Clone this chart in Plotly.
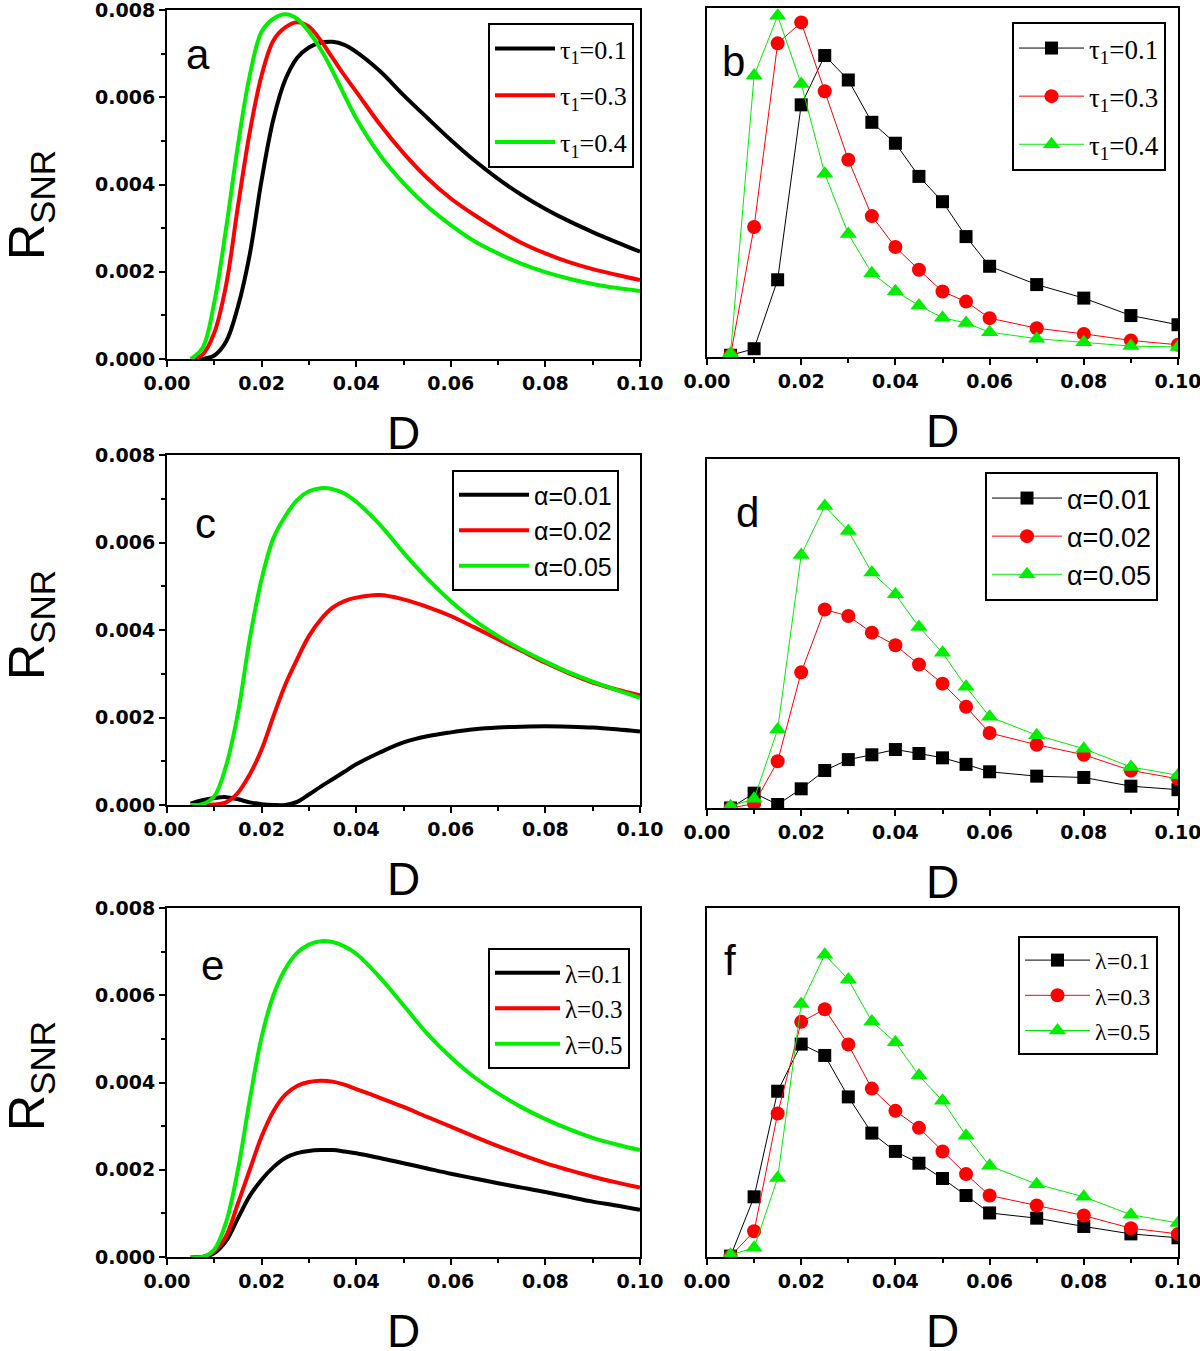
import plotly.graph_objects as go

# noise intensity grid for the theory curves (panels a, c, e)
D_curve = [0.005, 0.0075, 0.01, 0.0125, 0.015, 0.0175, 0.02, 0.0225, 0.025, 0.0275,
           0.03, 0.0325, 0.035, 0.0375, 0.04, 0.045, 0.05, 0.055, 0.06, 0.065,
           0.07, 0.075, 0.08, 0.085, 0.09, 0.095, 0.1]
# simulation points (panels b, d, f)
D_sim = [0.005, 0.01, 0.015, 0.02, 0.025, 0.03, 0.035, 0.04, 0.045, 0.05,
         0.055, 0.06, 0.07, 0.08, 0.09, 0.1]

# panel a: tau1
a_tau01 = [0, 0, 0.00008, 0.0004, 0.0012, 0.0024, 0.0041, 0.0055, 0.0064, 0.0069,
           0.00714, 0.00725, 0.00727, 0.0072, 0.00704, 0.0066, 0.00605, 0.00553, 0.00502, 0.00455,
           0.00413, 0.00376, 0.00344, 0.00316, 0.00291, 0.00268, 0.00246]
a_tau03 = [0, 0.0001, 0.0006, 0.0017, 0.0035, 0.0052, 0.0065, 0.0073, 0.0076, 0.00772,
           0.00762, 0.0073, 0.0069, 0.0065, 0.00613, 0.00538, 0.00472, 0.00415, 0.00368, 0.0033,
           0.00296, 0.00266, 0.00242, 0.00222, 0.00206, 0.00193, 0.00181]
a_tau04 = [0, 0.00025, 0.0013, 0.003, 0.0049, 0.0065, 0.0075, 0.0078, 0.0079, 0.0078,
           0.0075, 0.0071, 0.0066, 0.00605, 0.00552, 0.00468, 0.00403, 0.0035, 0.00307, 0.0027,
           0.00242, 0.00218, 0.00199, 0.00184, 0.00172, 0.00163, 0.00156]

# panel b: tau1 (simulation)
b_tau01 = [0.00004, 0.00019, 0.00177, 0.00578, 0.00691, 0.00635, 0.00538, 0.0049, 0.00414, 0.00356,
           0.00276, 0.00208, 0.00166, 0.00135, 0.00095, 0.00074]
b_tau03 = [0.00004, 0.00298, 0.00719, 0.00767, 0.00609, 0.00452, 0.00323, 0.00252, 0.002, 0.0015,
           0.00127, 0.00089, 0.00066, 0.00053, 0.00038, 0.00028]
b_tau04 = [0.00008, 0.00645, 0.00782, 0.00626, 0.0042, 0.00282, 0.00192, 0.00151, 0.00118, 0.0009,
           0.00078, 0.00057, 0.00042, 0.00034, 0.00025, 0.00023]

# panel c: alpha
c_a001 = [0.00003, 0.00011, 0.00016, 0.00018, 0.00013, 0.00006, 0.00002, 0.0, 0.0, 0.00007,
          0.00024, 0.00042, 0.00059, 0.00076, 0.00093, 0.0012, 0.00143, 0.00157, 0.00166, 0.00173,
          0.00177, 0.00179, 0.0018, 0.00179, 0.00177, 0.00173, 0.00168]
c_a002 = [0, 0, 0.00001, 0.00006, 0.00028, 0.0007, 0.00127, 0.00203, 0.00275, 0.00333,
          0.00386, 0.00424, 0.00451, 0.00466, 0.00474, 0.0048, 0.0047, 0.00453, 0.00432, 0.00406,
          0.00379, 0.00352, 0.00325, 0.00301, 0.0028, 0.00264, 0.00251]
c_a005 = [0, 0.00002, 0.0002, 0.0009, 0.0021, 0.0038, 0.00516, 0.0061, 0.0066, 0.00697,
          0.00717, 0.00724, 0.00722, 0.00712, 0.00693, 0.00641, 0.00577, 0.00518, 0.00466, 0.00422,
          0.00386, 0.00355, 0.00328, 0.00303, 0.00282, 0.00263, 0.00245]

# panel d: alpha (simulation)
d_a001 = [0.0, 0.00034, 0.00008, 0.00044, 0.00086, 0.00111, 0.00122, 0.00134, 0.00125, 0.00115,
          0.001, 0.00083, 0.00073, 0.0007, 0.0005, 0.00042]
d_a002 = [0.0, 0.0001, 0.00107, 0.00311, 0.00455, 0.0044, 0.00402, 0.00373, 0.00329, 0.00285,
          0.00232, 0.00172, 0.00145, 0.00122, 0.00086, 0.00067]
d_a005 = [0.00004, 0.00021, 0.0018, 0.0058, 0.00692, 0.00635, 0.0054, 0.0049, 0.00415, 0.00356,
          0.00278, 0.00209, 0.00167, 0.00136, 0.00094, 0.00075]

# panel e: lambda
e_l01 = [0, 0, 0.00009, 0.00037, 0.00089, 0.0014, 0.00177, 0.00206, 0.00227, 0.00238,
         0.00243, 0.00245, 0.00245, 0.00242, 0.00238, 0.00227, 0.00215, 0.00203, 0.00191, 0.0018,
         0.00169, 0.00159, 0.00149, 0.00138, 0.00127, 0.00118, 0.00108]
e_l03 = [0, 0, 0.00013, 0.00048, 0.00123, 0.002, 0.00276, 0.00334, 0.00372, 0.00392,
         0.00401, 0.00404, 0.00402, 0.00395, 0.00385, 0.00365, 0.00344, 0.00321, 0.00299, 0.00276,
         0.00254, 0.00234, 0.00215, 0.00199, 0.00184, 0.00171, 0.00159]
e_l05 = [0, 0, 0.00017, 0.0008, 0.002, 0.0036, 0.00504, 0.006, 0.0066, 0.00697,
         0.00716, 0.00724, 0.00722, 0.00712, 0.00695, 0.00641, 0.00577, 0.00512, 0.00458, 0.00412,
         0.00375, 0.00343, 0.00316, 0.00293, 0.00273, 0.00258, 0.00245]

# panel f: lambda (simulation)
f_l01 = [0.00002, 0.00138, 0.0038, 0.00488, 0.00462, 0.00367, 0.00284, 0.00242, 0.00215, 0.0018,
         0.00141, 0.00101, 0.00089, 0.0007, 0.00053, 0.00044]
f_l03 = [0.00002, 0.00059, 0.00329, 0.00539, 0.00568, 0.00487, 0.00386, 0.00335, 0.00296, 0.00242,
         0.0019, 0.00141, 0.00118, 0.00095, 0.00066, 0.00053]
f_l05 = [0.00005, 0.00021, 0.00181, 0.0058, 0.00693, 0.00636, 0.0054, 0.00492, 0.00416, 0.00358,
         0.00278, 0.00209, 0.00167, 0.00138, 0.00097, 0.00078]

tau_names = ["τ<sub>1</sub>=0.1", "τ<sub>1</sub>=0.3", "τ<sub>1</sub>=0.4"]
alpha_names = ["α=0.01", "α=0.02", "α=0.05"]
lambda_names = ["λ=0.1", "λ=0.3", "λ=0.5"]
panel_letters = ["a", "b", "c", "d", "e", "f"]

colors = ["#000000", "#ff0000", "#00ee00"]
symbols = ["square", "circle", "triangle-up"]
msizes = [13, 14, 15]

W, H = 1200, 1351
SERIF = "Liberation Serif, Times New Roman, serif"
SANS = "Liberation Sans, Arial, sans-serif"
TICKF = "DejaVu Sans, Arial, sans-serif"


def px_x(v):
    return v / W


def px_y(v):
    return 1 - v / H


# pixel boxes of the six plot areas: (left, right, top, bottom)
boxes = [(167, 640, 10, 359), (707, 1178, 8, 357),
         (167, 640, 455, 805), (707, 1178, 459, 808),
         (167, 640, 908, 1257), (707, 1178, 908, 1257)]

fig = go.Figure()

curve_sets = [(a_tau01, a_tau03, a_tau04), (c_a001, c_a002, c_a005), (e_l01, e_l03, e_l05)]
sim_sets = [(b_tau01, b_tau03, b_tau04), (d_a001, d_a002, d_a005), (f_l01, f_l03, f_l05)]
name_sets = [tau_names, alpha_names, lambda_names]

for row in range(3):
    left = 2 * row + 1
    right = 2 * row + 2
    for k in range(3):
        fig.add_trace(go.Scatter(
            x=D_curve, y=curve_sets[row][k], mode="lines", name=name_sets[row][k],
            line=dict(color=colors[k], width=4, shape="spline", smoothing=1),
            xaxis="x" if left == 1 else f"x{left}", yaxis="y" if left == 1 else f"y{left}",
            legend="legend" if left == 1 else f"legend{left}", legendgroup=f"g{left}{k}"))
        fig.add_trace(go.Scatter(
            x=D_sim, y=sim_sets[row][k], mode="lines+markers", name=name_sets[row][k],
            line=dict(color=colors[k], width=1),
            marker=dict(symbol=symbols[k], size=msizes[k], color=colors[k]),
            xaxis=f"x{right}", yaxis=f"y{right}",
            legend=f"legend{right}", legendgroup=f"g{right}{k}"))

tickfont = dict(family=TICKF, size=19, color="black", weight="bold")
layout = dict(template="none", width=W, height=H, margin=dict(l=0, r=0, t=0, b=0),
              plot_bgcolor="white", paper_bgcolor="white", showlegend=True)

for i, (l, r, t, b) in enumerate(boxes, start=1):
    sx = "" if i == 1 else str(i)
    layout[f"xaxis{sx}"] = dict(
        domain=[px_x(l), px_x(r)], range=[0, 0.1], anchor=f"y{sx}", automargin=False,
        dtick=0.02, tick0=0, tickformat=".2f", ticks="outside", ticklen=6, tickwidth=1.5,
        tickcolor="black", ticklabeloverflow="allow",
        minor=dict(dtick=0.01, ticks="outside", ticklen=4, tickwidth=1.5, tickcolor="black"),
        showline=True, linecolor="black", linewidth=2, mirror=True,
        showgrid=False, zeroline=False, tickfont=tickfont)
    left_col = (i % 2 == 1)
    layout[f"yaxis{sx}"] = dict(
        domain=[px_y(b), px_y(t)], range=[0, 0.008], anchor=f"x{sx}", automargin=False,
        dtick=0.002, tick0=0, tickformat=".3f", ticklabeloverflow="allow",
        ticks="outside" if left_col else "", ticklen=6, tickwidth=1.5, tickcolor="black",
        minor=dict(dtick=0.001, ticks="outside" if left_col else "", ticklen=4,
                   tickwidth=1.5, tickcolor="black"),
        showticklabels=left_col,
        showline=True, linecolor="black", linewidth=2, mirror=True,
        showgrid=False, zeroline=False, tickfont=tickfont)

# legend boxes: (left px, top px, font family, font size, gap, symbol width)
legend_spec = [(488, 23, SERIF, 26, 10, 60), (1012, 22, SERIF, 27, 10, 65),
               (452, 470, SANS, 25, 0, 70), (985, 472, SANS, 27, 0, 70),
               (488, 948, SERIF, 25, 0, 65), (1018, 936, SERIF, 24, 1, 65)]
for i, (lx, ty, fam, fs, gap, iw) in enumerate(legend_spec, start=1):
    key = "legend" if i == 1 else f"legend{i}"
    layout[key] = dict(x=px_x(lx), y=px_y(ty), xanchor="left", yanchor="top",
                       xref="paper", yref="paper",
                       bgcolor="white", bordercolor="black", borderwidth=2,
                       font=dict(family=fam, size=fs, color="black"),
                       tracegroupgap=gap, itemwidth=iw)

fig.update_layout(**layout)

# panel letters
letter_pos = [(198, 55), (733, 62), (205, 523), (747, 512), (212, 965), (730, 960)]
for letter, (lx, ly) in zip(panel_letters, letter_pos):
    fig.add_annotation(x=px_x(lx), y=px_y(ly), xref="paper", yref="paper",
                       text=letter, showarrow=False, xanchor="center", yanchor="middle",
                       font=dict(family=SANS, size=42, color="black"))

# axis titles
for i, (l, r, t, b) in enumerate(boxes):
    fig.add_annotation(x=px_x((l + r) / 2), y=px_y(b + 74), xref="paper", yref="paper",
                       text="D", showarrow=False, xanchor="center", yanchor="middle",
                       font=dict(family=SANS, size=46, color="black"))
for cy in [205, 625, 1076]:
    fig.add_annotation(x=px_x(30), y=px_y(cy), xref="paper", yref="paper",
                       text="R<sub>SNR</sub>", textangle=-90, showarrow=False,
                       xanchor="center", yanchor="middle",
                       font=dict(family=SANS, size=50, color="black"))

fig.write_html("out.html", config={"displayModeBar": False},
               post_script="document.body.style.margin='0px';")
